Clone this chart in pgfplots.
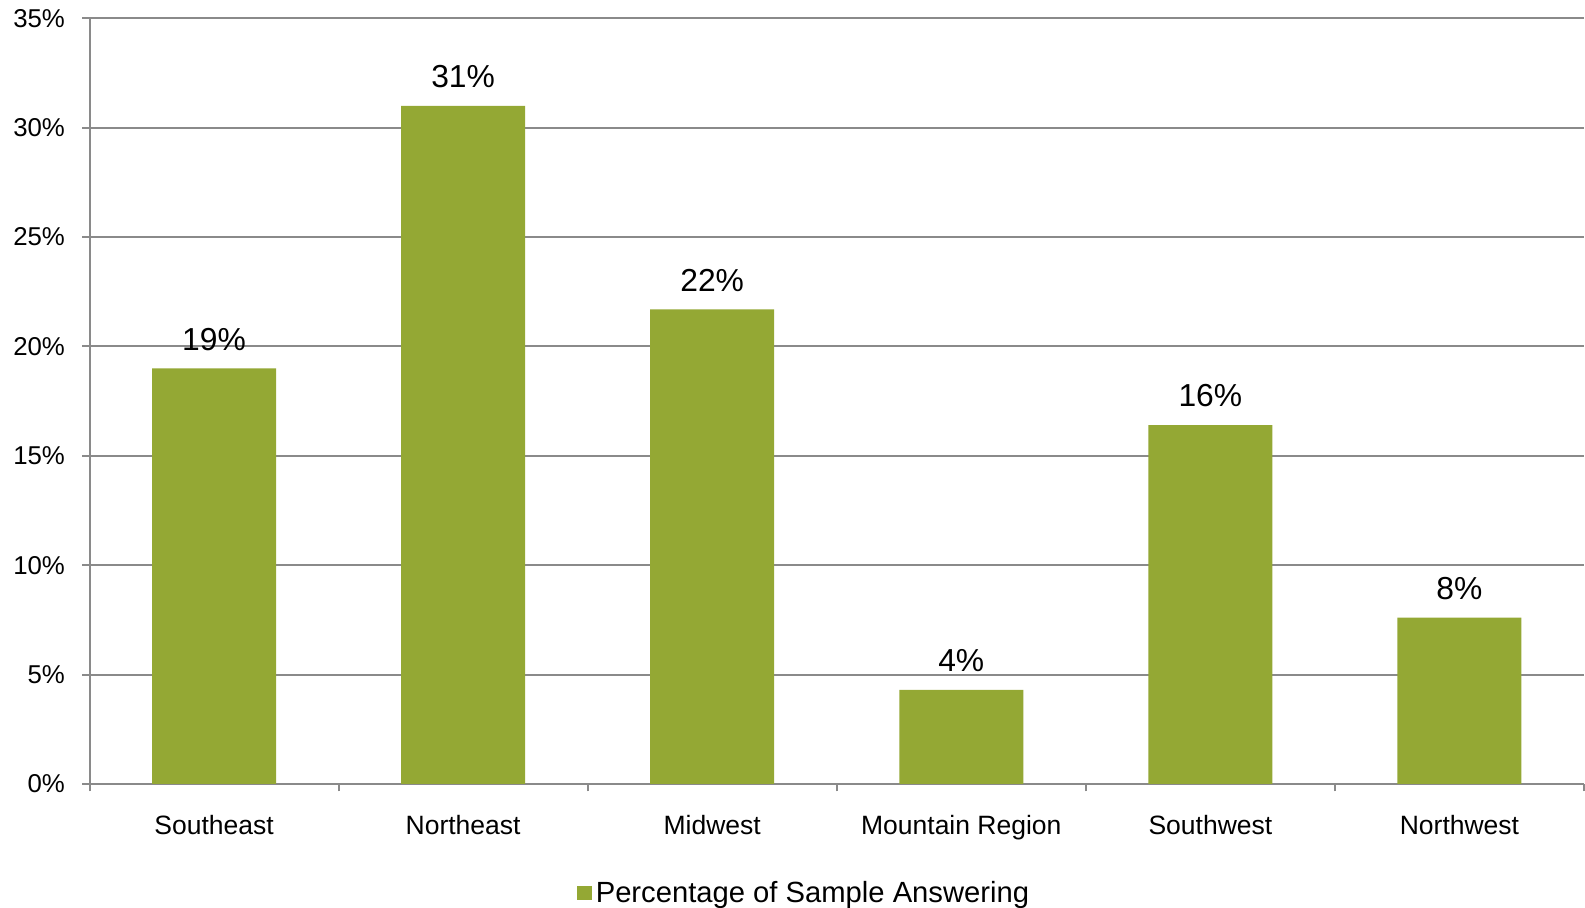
\documentclass[border=0pt]{standalone}
\usepackage{fontspec}
\setmainfont{Liberation Sans}
\usepackage{pgfplots}
\pgfplotsset{compat=1.18}
\definecolor{bargreen}{RGB}{148,168,52}
\definecolor{gridgray}{RGB}{138,138,138}
\begin{document}
\begin{tikzpicture}
\path[use as bounding box] (-44.75bp,-62bp) rectangle (747.75bp,392bp);
\begin{axis}[
    at={(0,0)}, anchor=south west,
    width=747.25bp, height=382.85bp, scale only axis,
    /pgf/number format/assume math mode=true,
    ybar, bar width=62bp,
    xmin=-0.5, xmax=5.5, ymin=0, ymax=35,
    enlargelimits=false,
    axis x line=bottom, axis y line=left,
    axis line style={gridgray, line width=1bp, -},
    tick align=outside,
    major tick length=3.7bp,
    tick style={gridgray, line width=1bp},
    xtick={-0.5,0.5,...,5.5},
    x tick label as interval,
    xticklabels={Southeast,Northeast,Midwest,Mountain Region,Southwest,Northwest},
    xticklabel style={font=\fontsize{13.25bp}{15bp}\selectfont, inner sep=0pt, anchor=north, yshift=-11.5bp},
    ytick={0,5,...,35},
    yticklabel={\pgfmathprintnumber{\tick}\%},
    yticklabel style={font=\fontsize{12.9bp}{15bp}\selectfont, inner sep=0pt, anchor=east, xshift=-8.4bp},
    ymajorgrids,
    major grid style={gridgray, line width=1bp},
    nodes near coords={\pgfmathprintnumber[fixed,precision=0]{\pgfplotspointmeta}\%},
    nodes near coords style={font=\fontsize{15.9bp}{18bp}\selectfont, inner sep=0pt, anchor=south, yshift=8.8bp, black},
    legend style={draw=none, fill=none, inner sep=0pt, at={(0.4788,-0.1424)}, anchor=center,
        font=\fontsize{14.6bp}{17bp}\selectfont},
    legend image code/.code={\fill[bargreen] (-1.5bp,-3.7bp) rectangle (5.9bp,3.7bp);},
]
\addplot[fill=bargreen, draw=none] coordinates {
    (0,19) (1,31) (2,21.7) (3,4.3) (4,16.4) (5,7.6)
};
\legend{Percentage of Sample Answering}
\end{axis}
\end{tikzpicture}
\end{document}
